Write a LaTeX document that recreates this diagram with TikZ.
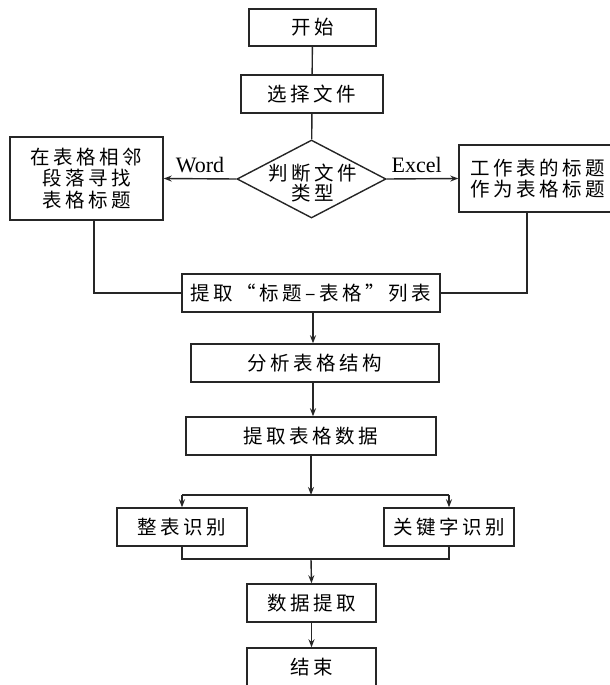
\documentclass[tikz,border=0pt]{standalone}
\usepackage{fontspec}
\setmainfont{Liberation Serif}
\newfontfamily\cjk[LetterSpace=18]{Noto Sans CJK SC}
\usetikzlibrary{shapes.geometric,arrows.meta}
\begin{document}
\begin{tikzpicture}[x=1pt,y=-1pt,
  ln/.style={line width=1.4pt, draw=black!85},
  arr/.style={ln, -{Stealth[length=8pt,width=6pt]}},
  box/.style={draw=black!85, line width=1.4pt, inner sep=0pt, align=center,
    font=\cjk\fontsize{19.5}{21.5}\selectfont},
  txt/.style={inner sep=0pt, align=center, font=\cjk\fontsize{19.5}{20.5}\selectfont},
  dia/.style={draw=black!85, line width=1.4pt, diamond, inner sep=0pt},
  lab/.style={font=\fontsize{22}{24}\selectfont, inner sep=5pt}]
\fill[white] (0,0) rectangle (610,685);
\useasboundingbox (0,0) rectangle (610,685);
\node[box, minimum width=127pt, minimum height=37pt] (start) at (312.5,27.5) {开始};
\node[box, minimum width=142pt, minimum height=38pt] (choose) at (312,94) {选择文件};
\node[dia, minimum width=149pt, minimum height=78pt] (type) at (311.5,179) {};
\node[txt] (typetext) at (313,183) {判断文件\\类型};
\node[box, minimum width=153pt, minimum height=83pt] (left) at (86.5,178.5) {在表格相邻\\段落寻找\\表格标题};
\node[box, minimum width=158pt, minimum height=67pt] (right) at (538,178.5) {工作表的标题\\作为表格标题};
\node[box, minimum width=258pt, minimum height=38pt] (list) at (311,293) {提取“标题–表格”列表};
\node[box, minimum width=248pt, minimum height=38pt] (struct) at (315,363) {分析表格结构};
\node[box, minimum width=250pt, minimum height=38pt] (data) at (311,436) {提取表格数据};
\node[box, minimum width=130pt, minimum height=38pt] (whole) at (182,527) {整表识别};
\node[box, minimum width=130pt, minimum height=38pt] (kw) at (449,527) {关键字识别};
\node[box, minimum width=129pt, minimum height=38pt] (ext) at (311.5,603) {数据提取};
\node[box, minimum width=129pt, minimum height=38pt] (end) at (311.5,667) {结束};
\coordinate (cx) at (313,0);
\coordinate (b) at (311,495);
\coordinate (m) at (311,559);
\draw[ln] (start) -- (choose);
\draw[ln] (choose) -- (type);
\draw[arr] (type.west) -- node[lab, above] {Word} (left.east);
\draw[arr] (type.east) -- node[lab, above, pos=0.42] {Excel} (right.west);
\draw[ln] ([xshift=7.5pt]left.south) |- (list.west);
\draw[ln] ([xshift=-11pt]right.south) |- (list.east);
\draw[arr] (list.south -| cx) -- (struct.north -| cx);
\draw[arr] (struct.south -| cx) -- (data.north -| cx);
\draw[arr] (data.south -| b) -- (b);
\draw[ln] (whole.north |- b) -- (kw.north |- b);
\draw[arr] (whole.north |- b) -- (whole.north);
\draw[arr] (kw.north |- b) -- (kw.north);
\draw[ln] (whole.south) |- (m) -| (kw.south);
\draw[arr] (m) -- (ext.north);
\draw[arr] (ext) -- (end);
\end{tikzpicture}
\end{document}
